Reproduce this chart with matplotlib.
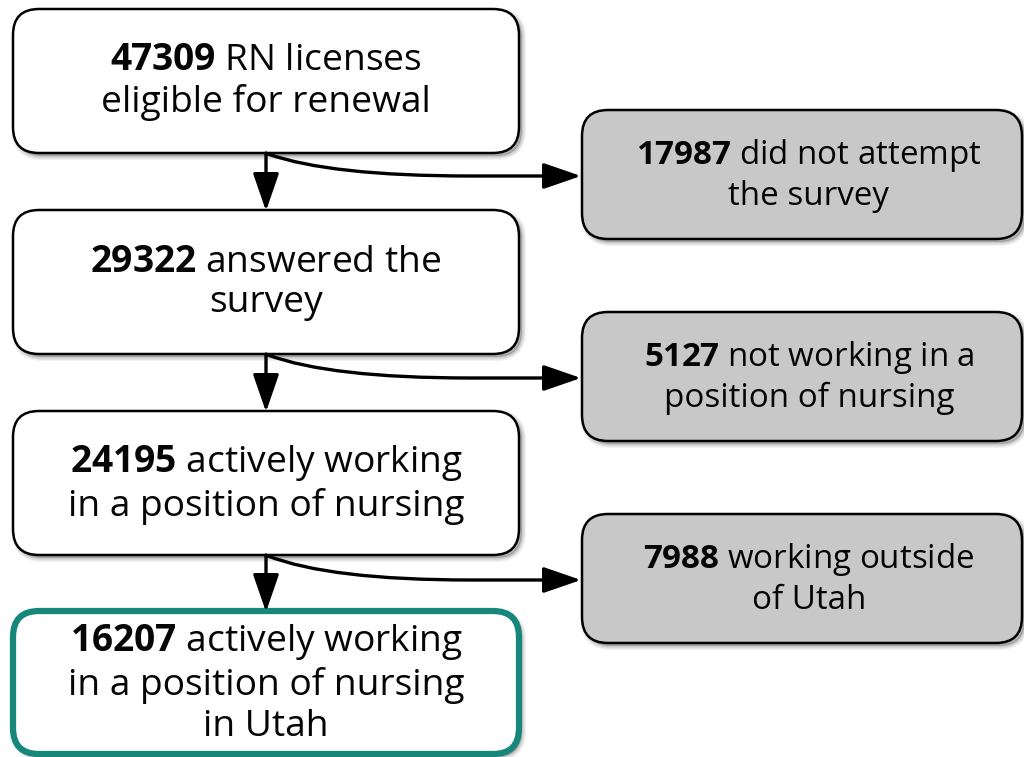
import matplotlib.pyplot as plt
from matplotlib.patches import FancyBboxPatch, FancyArrowPatch
from matplotlib.path import Path

plt.rcParams['font.family'] = ['Open Sans', 'DejaVu Sans']
plt.rcParams['mathtext.fontset'] = 'custom'
plt.rcParams['mathtext.rm'] = 'Open Sans'
plt.rcParams['mathtext.bf'] = 'Open Sans:bold'

# flow counts and labels
main_counts = [47309, 29322, 24195, 16207]
main_labels = [" RN licenses\neligible for renewal",
               " answered the\nsurvey",
               " actively working\nin a position of nursing",
               " actively working\nin a position of nursing\nin Utah"]
side_counts = [17987, 5127, 7988]
side_labels = [" did not attempt\nthe survey",
               " not working in a\nposition of nursing",
               " working outside\nof Utah"]

fig = plt.figure(figsize=(10.24, 7.57), dpi=100)
ax = fig.add_axes([0, 0, 1, 1])
ax.set_xlim(0, 1024)
ax.set_ylim(757, 0)
ax.axis('off')

teal = '#17877b'
grey = '#c8c8c8'


def box(x0, y0, w, h, fc, ec, lw):
    # soft shadow
    for k, a in [(6, 0.05), (4, 0.07), (2, 0.09)]:
        ax.add_patch(FancyBboxPatch((x0 + 3, y0 + 3), w, h,
                                    boxstyle="round,pad=0,rounding_size=26",
                                    fc='black', ec='black', lw=k, alpha=a, zorder=1))
    ax.add_patch(FancyBboxPatch((x0, y0), w, h,
                                boxstyle="round,pad=0,rounding_size=26",
                                fc=fc, ec=ec, lw=lw, zorder=2))


def label(cx, cy, count, text, size, ls):
    lines = text.split("\n")
    lines[0] = r"$\mathbf{%d}$" % count + lines[0]
    ax.text(cx, cy, "\n".join(lines), ha='center', va='center',
            fontsize=size, linespacing=ls, color='#050505', zorder=3)


main_y = [9, 210, 411, 611]
main_h = [144, 144, 144, 143]
for i, (c, t) in enumerate(zip(main_counts, main_labels)):
    last = i == len(main_counts) - 1
    box(13, main_y[i], 506, main_h[i], 'white', teal if last else 'black',
        4.5 if last else 1.8)
    cy = main_y[i] + main_h[i] / 2
    label(266, cy + 1, c, t, 26.7, 1.18)

side_y = [110, 312, 514]
for i, (c, t) in enumerate(zip(side_counts, side_labels)):
    box(582, side_y[i], 440, 129, grey, 'black', 1.8)
    label(809, side_y[i] + 65, c, t, 23.9, 1.24)

# arrows
astyle = '-|>,head_length=1.45,head_width=0.5'
for i in range(3):
    yb = main_y[i] + main_h[i]
    ax.add_patch(FancyArrowPatch((266, yb), (266, main_y[i + 1] + 1),
                                 arrowstyle=astyle,
                                 mutation_scale=16, lw=2.4, color='black',
                                 shrinkA=0, shrinkB=0, zorder=4))
    ty = side_y[i] + 66
    p = Path([(268, yb + 1), (330, ty), (470, ty), (581, ty)],
             [Path.MOVETO, Path.CURVE3, Path.CURVE3, Path.LINETO])
    ax.add_patch(FancyArrowPatch(path=p,
                                 arrowstyle=astyle,
                                 mutation_scale=16, lw=2.4, color='black',
                                 shrinkA=0, shrinkB=0, zorder=4))

fig.savefig('out.png', dpi=100)
